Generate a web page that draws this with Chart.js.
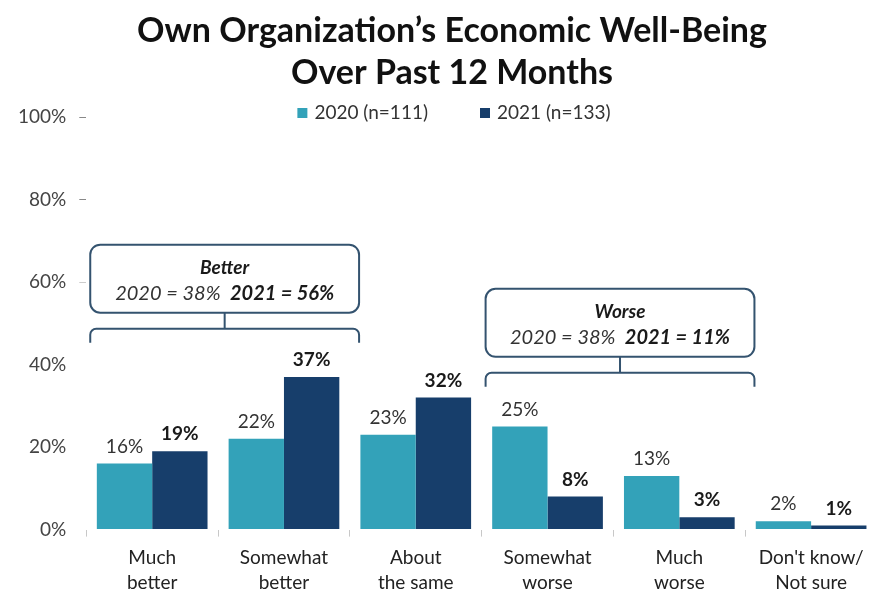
<!DOCTYPE html>
<html>
<head>
<meta charset="utf-8">
<script src="https://cdn.jsdelivr.net/npm/chart.js@4.4.1/dist/chart.umd.min.js"></script>
<style>
  html, body { margin: 0; padding: 0; background: #fff; overflow: hidden; }
  #wrap { width: 884px; height: 608px; }
</style>
</head>
<body>
<div id="wrap"><canvas id="wellBeingChart"></canvas></div>
<script>
// data
const categories = [
    ['Much', 'better'],
    ['Somewhat', 'better'],
    ['About', 'the same'],
    ['Somewhat', 'worse'],
    ['Much', 'worse'],
    ["Don't know/", 'Not sure']
];
const values2020 = [16, 22, 23, 25, 13, 2];
const values2021 = [19, 37, 32, 8, 3, 1];
const seriesLabels = ['2020 (n=111)', '2021 (n=133)'];
const yTicks = [0, 20, 40, 60, 80, 100];
const titleLines = ['Own Organization\u2019s Economic Well-Being', 'Over Past 12 Months'];

// summary boxes over groups of categories
const groupTitles = ['Better', 'Worse'];
const groupText2020 = ['2020 = 38%', '2020 = 38%'];
const groupText2021 = ['2021 = 56%', '2021 = 11%'];
const groupFrom = [0, 3];
const groupTo = [1, 4];
// where each bracket sits (y axis value)
const bracketLevel = [48.7, 38];

const FONT = 'Lato, "DejaVu Sans", sans-serif';
const colors = ['#33A2B9', '#173E6B'];

// --- title + legend drawn at the top ---
const header = {
    id: 'header',
    afterDraw(chart) {
        const ctx = chart.ctx;
        const cx = chart.width / 2 + 10;
        ctx.save();
        ctx.textAlign = 'center';
        ctx.textBaseline = 'middle';
        ctx.fillStyle = '#111';
        ctx.font = 'bold 34px ' + FONT;
        ctx.fillText(titleLines[0], cx, 31);
        ctx.fillText(titleLines[1], cx, 73);

        // legend
        const y = 113;
        ctx.textAlign = 'left';
        ctx.font = '19px ' + FONT;
        const gap = 52, box = 10, boxGap = 7;
        const widths = chart.data.datasets.map(ds => box + boxGap + ctx.measureText(ds.label).width);
        const total = widths.reduce((s, w) => s + w, 0) + gap * (widths.length - 1);
        let x = chart.width / 2 + 12 - total / 2;
        chart.data.datasets.forEach(function (ds, i) {
            ctx.fillStyle = ds.backgroundColor;
            ctx.fillRect(x, y - box / 2, box, box);
            ctx.fillStyle = '#333';
            ctx.fillText(ds.label, x + box + boxGap, y);
            x += widths[i] + gap;
        });
        ctx.restore();
    }
};

// --- labels on top of bars ---
const barLabels = {
    id: 'barLabels',
    afterDatasetsDraw(chart) {
        const ctx = chart.ctx;
        ctx.save();
        ctx.textAlign = 'center';
        ctx.textBaseline = 'middle';
        chart.data.datasets.forEach(function (ds, di) {
            const meta = chart.getDatasetMeta(di);
            ctx.font = (di === 1 ? 'bold ' : '') + '19px ' + FONT;
            ctx.fillStyle = di === 1 ? '#1a1a1a' : '#333';
            meta.data.forEach(function (bar, i) {
                ctx.fillText(ds.data[i] + '%', bar.x, bar.y - 17);
            });
        });
        ctx.restore();
    }
};

function roundRect(ctx, x, y, w, h, r) {
    ctx.beginPath();
    ctx.moveTo(x + r, y);
    ctx.lineTo(x + w - r, y);
    ctx.arcTo(x + w, y, x + w, y + r, r);
    ctx.lineTo(x + w, y + h - r);
    ctx.arcTo(x + w, y + h, x + w - r, y + h, r);
    ctx.lineTo(x + r, y + h);
    ctx.arcTo(x, y + h, x, y + h - r, r);
    ctx.lineTo(x, y + r);
    ctx.arcTo(x, y, x + r, y, r);
    ctx.closePath();
}

// --- summary boxes + brackets ---
const groupBrackets = {
    id: 'groupBrackets',
    afterDraw(chart) {
        const ctx = chart.ctx;
        const xs = chart.scales.x, ys = chart.scales.y;
        const w = xs.getPixelForValue(1) - xs.getPixelForValue(0);
        ctx.save();
        ctx.strokeStyle = '#34536F';
        ctx.lineWidth = 2;
        groupTitles.forEach(function (title, gi) {
            const left = xs.getPixelForValue(groupFrom[gi]) - 0.47 * w;
            const right = xs.getPixelForValue(groupTo[gi]) + 0.57 * w;
            const mid = (left + right) / 2;
            const bracketY = ys.getPixelForValue(bracketLevel[gi]);
            const boxBottom = bracketY - 16;
            const boxTop = boxBottom - 68;

            // bracket
            ctx.beginPath();
            ctx.moveTo(left, bracketY + 14);
            ctx.lineTo(left, bracketY + 6);
            ctx.arcTo(left, bracketY, left + 6, bracketY, 6);
            ctx.lineTo(right - 6, bracketY);
            ctx.arcTo(right, bracketY, right, bracketY + 6, 6);
            ctx.lineTo(right, bracketY + 14);
            ctx.moveTo(mid, bracketY);
            ctx.lineTo(mid, boxBottom);
            ctx.stroke();

            // box
            roundRect(ctx, left, boxTop, right - left, boxBottom - boxTop, 10);
            ctx.fillStyle = '#fff';
            ctx.fill();
            ctx.stroke();

            ctx.fillStyle = '#1a1a1a';
            ctx.textBaseline = 'middle';
            ctx.textAlign = 'center';
            ctx.font = 'italic bold 19px ' + FONT;
            ctx.fillText(title, mid, boxTop + 23);
            ctx.textAlign = 'left';
            const a = groupText2020[gi] + '  ', b = groupText2021[gi];
            ctx.font = 'italic 20px ' + FONT;
            const wa = ctx.measureText(a).width;
            ctx.font = 'italic bold 20px ' + FONT;
            const wb = ctx.measureText(b).width;
            const x = mid - (wa + wb) / 2;
            ctx.font = 'italic 20px ' + FONT;
            ctx.fillStyle = '#333';
            ctx.fillText(a, x, boxTop + 49);
            ctx.font = 'italic bold 20px ' + FONT;
            ctx.fillStyle = '#1a1a1a';
            ctx.fillText(b, x + wa, boxTop + 49);
        });
        ctx.restore();
    }
};

const ctx = document.getElementById('wellBeingChart');
new Chart(ctx.getContext('2d'), {
    type: 'bar',
    data: {
        labels: categories,
        datasets: [{
            label: seriesLabels[0],
            data: values2020,
            backgroundColor: colors[0],
            categoryPercentage: 0.84,
            barPercentage: 1.0
        }, {
            label: seriesLabels[1],
            data: values2021,
            backgroundColor: colors[1],
            categoryPercentage: 0.84,
            barPercentage: 1.0
        }]
    },
    options: {
        responsive: true,
        maintainAspectRatio: false,
        animation: false,
        layout: { padding: { top: 117, left: 5, right: 7, bottom: 4 } },
        scales: {
            x: {
                border: { display: false },
                grid: {
                    offset: true,
                    drawOnChartArea: false,
                    tickLength: 7,
                    color: '#c8c8c8'
                },
                ticks: {
                    padding: 9,
                    color: '#222',
                    font: { family: FONT, size: 19, lineHeight: 1.3 }
                }
            },
            y: {
                min: 0,
                max: 100,
                afterBuildTicks: function (scale) {
                    scale.ticks = yTicks.map(v => ({ value: v }));
                },
                border: { display: false },
                grid: {
                    drawOnChartArea: false,
                    tickLength: 7,
                    color: function (c) {
                        if (!c.tick) return 'rgba(0,0,0,0)';
                        if (c.tick.value >= 80) return '#888';
                        if (c.tick.value === 60) return '#ccc';
                        return 'rgba(0,0,0,0)';
                    }
                },
                ticks: {
                    padding: 13,
                    color: '#444',
                    font: { family: FONT, size: 19 },
                    callback: function (value) { return value + '%'; }
                }
            }
        },
        plugins: {
            legend: { display: false },
            tooltip: { enabled: false },
            title: { display: false }
        }
    },
    plugins: [barLabels, header, groupBrackets]
});
</script>
</body>
</html>
